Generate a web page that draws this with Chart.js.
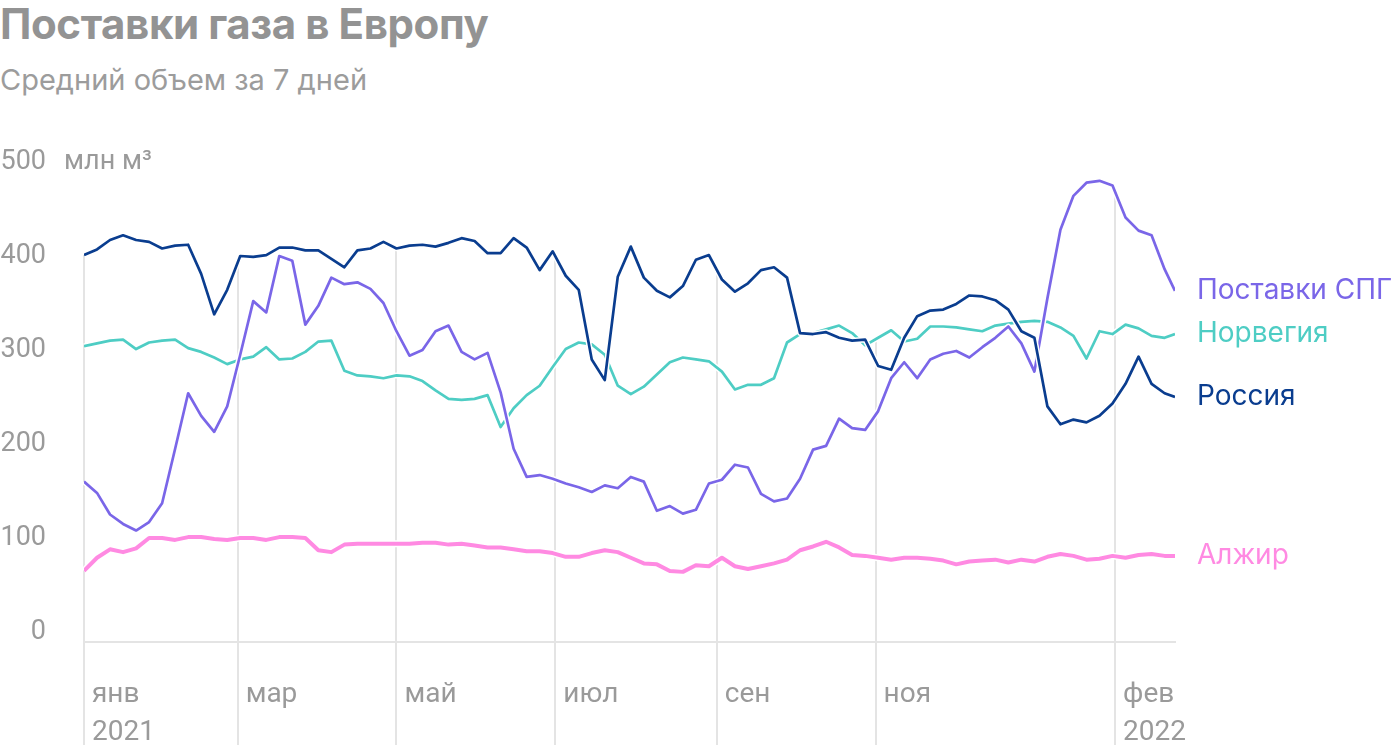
<!DOCTYPE html>
<html>
<head>
<meta charset="utf-8">
<title>Поставки газа в Европу</title>
<script src="https://cdn.jsdelivr.net/npm/chart.js@4.4.1/dist/chart.umd.min.js"></script>
<style>
html,body{margin:0;padding:0;background:#fff}
.wrap{position:relative;width:1400px;height:752px;overflow:hidden}
.title{position:absolute;left:0;top:-2px;margin:0;font:700 42px Inter,'Noto Sans',sans-serif;line-height:52px;color:#939393;letter-spacing:-0.4px}
.subtitle{position:absolute;left:0;top:61px;margin:0;font:400 29px Inter,'Noto Sans',sans-serif;line-height:38px;color:#9c9c9c}
canvas{position:absolute;left:0;top:0}
</style>
</head>
<body>
<div class="wrap">
  <h1 class="title">Поставки газа в Европу</h1>
  <p class="subtitle">Средний объем за 7 дней</p>
  <canvas id="myGraph" width="1400" height="752"></canvas>
</div>
<script>
// days since 1 Jan 2021, one reading every 5 days
const days=[0,5,10,15,20,25,30,35,40,45,50,55,60,65,70,75,80,85,90,95,100,105,110,115,120,125,130,135,140,145,150,155,160,165,170,175,180,185,190,195,200,205,210,215,220,225,230,235,240,245,250,255,260,265,270,275,280,285,290,295,300,305,310,315,320,325,330,335,340,345,350,355,360,365,370,375,380,385,390,395,400,405,410,415,419]

// million m3, 7-day average
const russia=[401,407,417,422,417,415,408,411,412,381,338,364,400,399,401,409,409,406,406,397,388,406,408,415,408,411,412,410,414,419,416,403,403,419,409,385,405,379,364,290,268,378,410,377,363,356,368,396,401,375,362,371,385,388,377,318,317,319,313,310,311,283,279,313,336,342,343,349,358,357,353,343,320,313,240,221,226,223,230,243,264,293,264,254,250]
const norway=[304,307,310,311,301,308,310,311,302,298,292,285,290,293,303,290,291,298,309,310,278,273,272,270,273,272,267,257,248,247,248,252,218,238,252,262,282,301,308,306,295,262,253,261,274,287,292,290,288,277,258,263,263,270,308,317,318,322,326,318,305,313,321,309,312,325,325,324,322,320,326,328,330,331,330,324,315,291,320,317,327,323,315,313,317]
const lng=[160,148,125,115,108,117,137,195,254,230,213,240,295,352,340,400,395,327,347,377,370,372,365,350,320,294,300,320,326,298,290,297,255,195,165,167,163,158,154,149,156,153,165,160,129,134,126,130,158,162,178,175,147,139,142,163,194,198,227,217,215,235,270,287,270,290,296,299,292,303,313,325,307,277,355,428,464,478,480,475,441,427,422,386,363]
const algeria=[65,79,88,85,89,100,100,98,101,101,99,98,100,100,98,101,101,100,87,85,93,94,94,94,94,94,95,95,93,94,92,90,90,88,86,86,84,80,80,84,87,85,79,73,72,65,64,71,70,79,70,67,70,73,77,87,91,96,90,82,81,79,77,79,79,78,76,72,75,76,77,74,77,75,80,83,81,77,78,81,79,82,83,81,81]

const seriesNames=['Россия','Поставки СПГ','Норвегия','Алжир']
const seriesColors=['#0a3d8f','#7a66e8','#4ecdc4','#ff8ae2']
const seriesWidths=[2.7,2.7,2.7,4]

// month ticks: 1 Jan, 1 Mar, 1 May, 1 Jul, 1 Sep, 1 Nov 2021, 1 Feb 2022
const tickDays=[0,59,120,181,243,304,396]
const tickLabels=[['янв','2021'],'мар','май','июл','сен','ноя',['фев','2022']]
const yTicks=[0,100,200,300,400,500]

const allSeries=[russia,lng,norway,algeria]

function valueAt(arr,day){
    for(let i=0;i<days.length-1;i++){
        if(day>=days[i]&&day<=days[i+1]){
            let t=(day-days[i])/(days[i+1]-days[i])
            return arr[i]+(arr[i+1]-arr[i])*t
        }
    }
    return arr[arr.length-1]
}

// vertical month lines run from below the axis up to the highest series
const monthLines={
    id:'monthLines',
    beforeDatasetsDraw(chart){
        const {ctx,scales}=chart
        ctx.save()
        ctx.strokeStyle='#e4e4e4'
        ctx.lineWidth=2
        tickDays.forEach(d=>{
            let top=Math.max(...allSeries.map(s=>valueAt(s,d)))
            let x=Math.round(scales.x.getPixelForValue(d))
            ctx.beginPath()
            ctx.moveTo(x,scales.y.getPixelForValue(top))
            ctx.lineTo(x,745)
            ctx.stroke()
        })
        ctx.restore()
    }
}

// thin white halo under every line
const halo={
    id:'halo',
    beforeDatasetDraw(chart,args){
        const pts=args.meta.data
        const ctx=chart.ctx
        ctx.save()
        ctx.strokeStyle='#fff'
        ctx.lineWidth=seriesWidths[args.index]+3
        ctx.lineJoin='round'
        ctx.beginPath()
        pts.forEach((p,i)=>i?ctx.lineTo(p.x,p.y):ctx.moveTo(p.x,p.y))
        ctx.stroke()
        ctx.restore()
    }
}

const endLabels={
    id:'endLabels',
    afterDatasetsDraw(chart){
        const ctx=chart.ctx
        ctx.save()
        ctx.font='400 28px Inter'
        ctx.textAlign='left'
        ctx.textBaseline='middle'
        chart.data.datasets.forEach((ds,i)=>{
            const meta=chart.getDatasetMeta(i)
            const last=meta.data[meta.data.length-1]
            ctx.fillStyle=seriesColors[i]
            ctx.fillText(seriesNames[i],chart.chartArea.right+22,last.y)
        })
        // unit after the top tick
        const y=chart.scales.y.getPixelForValue(500)
        ctx.font='400 27px Roboto'
        ctx.fillStyle='#9a9a9a'
        ctx.fillText('млн м³',64,y)
        ctx.restore()
    }
}

let myGraph=document.getElementById('myGraph').getContext('2d')
let chart=new Chart(myGraph,{
    type:'line',
    data:{
        datasets:allSeries.map((s,i)=>({
            label:seriesNames[i],
            data:days.map((d,j)=>({x:d,y:s[j]})),
            borderColor:seriesColors[i],
            borderWidth:seriesWidths[i],
            pointRadius:0,
            tension:0,
            borderJoinStyle:'round',
            fill:false
        }))
    },
    plugins:[monthLines,halo,endLabels],
    options:{
        responsive:false,
        animation:false,
        devicePixelRatio:1,
        layout:{padding:{top:162,right:225,bottom:0,left:0}},
        plugins:{legend:{display:false},tooltip:{enabled:false}},
        scales:{
            x:{
                type:'linear',
                min:0,
                max:419,
                afterBuildTicks:axis=>{axis.ticks=tickDays.map(v=>({value:v}))},
                afterFit:axis=>{axis.height=110},
                grid:{display:false},
                border:{display:true,color:'#e4e4e4',width:2},
                ticks:{
                    autoSkip:false,
                    maxRotation:0,
                    align:'start',
                    labelOffset:8,
                    padding:26,
                    color:'#9a9a9a',
                    font:{family:'Roboto',size:28,lineHeight:1.36},
                    callback:v=>tickLabels[tickDays.indexOf(v)]
                }
            },
            y:{
                min:-10.6,
                max:500,
                afterBuildTicks:axis=>{axis.ticks=yTicks.map(v=>({value:v}))},
                afterFit:axis=>{axis.width=84},
                grid:{display:false},
                border:{display:false},
                ticks:{
                    padding:30,
                    color:'#9a9a9a',
                    font:{family:'Roboto',size:27},
                    callback:v=>String(v)
                }
            }
        }
    }
})
</script>
</body>
</html>
